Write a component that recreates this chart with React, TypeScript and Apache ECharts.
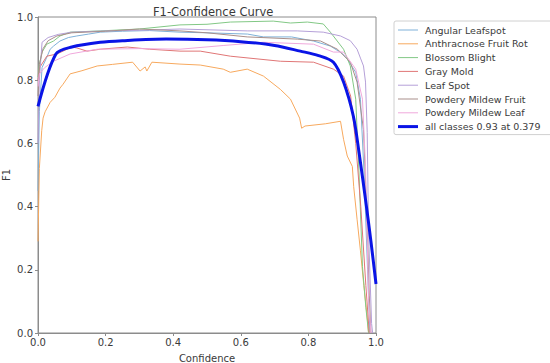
import React, { useEffect, useRef } from "react";
import * as echarts from "echarts";

const classNames = [
  "Angular Leafspot",
  "Anthracnose Fruit Rot",
  "Blossom Blight",
  "Gray Mold",
  "Leaf Spot",
  "Powdery Mildew Fruit",
  "Powdery Mildew Leaf",
];
const allClassesName = "all classes 0.93 at 0.379";

const angularConf = [0, 0.004, 0.012, 0.025, 0.036, 0.046, 0.065, 0.09, 0.115, 0.15, 0.184, 0.25, 0.33, 0.42, 0.5, 0.62, 0.667, 0.75, 0.815, 0.865, 0.9, 0.915, 0.94, 0.954, 0.965, 0.975, 0.982];
const angularF1 = [0.45, 0.7, 0.84, 0.87, 0.898, 0.908, 0.924, 0.935, 0.94, 0.946, 0.952, 0.955, 0.957, 0.952, 0.95, 0.946, 0.937, 0.937, 0.924, 0.908, 0.885, 0.867, 0.825, 0.74, 0.5, 0.2, 0];

const anthracConf = [0, 0.004, 0.011, 0.015, 0.021, 0.036, 0.05, 0.065, 0.074, 0.095, 0.13, 0.175, 0.22, 0.28, 0.302, 0.317, 0.322, 0.337, 0.42, 0.48, 0.548, 0.569, 0.619, 0.667, 0.717, 0.747, 0.774, 0.78, 0.79, 0.85, 0.895, 0.904, 0.915, 0.93, 0.934, 0.944, 0.954, 0.964, 0.974, 0.978];
const anthracF1 = [0.29, 0.52, 0.64, 0.68, 0.7, 0.73, 0.746, 0.775, 0.787, 0.82, 0.83, 0.845, 0.85, 0.857, 0.829, 0.842, 0.829, 0.857, 0.851, 0.848, 0.835, 0.825, 0.835, 0.813, 0.771, 0.74, 0.68, 0.648, 0.655, 0.662, 0.67, 0.613, 0.56, 0.527, 0.463, 0.36, 0.26, 0.15, 0.05, 0];

const blossomConf = [0, 0.004, 0.012, 0.026, 0.046, 0.065, 0.095, 0.184, 0.3, 0.42, 0.5, 0.569, 0.696, 0.747, 0.797, 0.844, 0.865, 0.904, 0.924, 0.94, 0.95, 0.96, 0.97, 0.978];
const blossomF1 = [0.81, 0.85, 0.889, 0.914, 0.924, 0.94, 0.952, 0.956, 0.962, 0.975, 0.977, 0.984, 0.987, 0.981, 0.984, 0.978, 0.952, 0.898, 0.845, 0.74, 0.5, 0.21, 0.08, 0];

const grayConf = [0, 0.005, 0.026, 0.056, 0.086, 0.1, 0.115, 0.145, 0.184, 0.264, 0.33, 0.42, 0.48, 0.569, 0.717, 0.815, 0.874, 0.904, 0.925, 0.94, 0.955, 0.97, 0.98];
const grayF1 = [0.8, 0.84, 0.876, 0.883, 0.898, 0.905, 0.902, 0.892, 0.898, 0.905, 0.898, 0.892, 0.892, 0.876, 0.86, 0.857, 0.835, 0.813, 0.75, 0.6, 0.4, 0.15, 0];

const leafConf = [0, 0.004, 0.012, 0.03, 0.06, 0.1, 0.2, 0.3, 0.42, 0.619, 0.767, 0.844, 0.895, 0.924, 0.944, 0.954, 0.963, 0.969, 0.974, 0.978, 0.987, 0.99];
const leafF1 = [0.6, 0.8, 0.92, 0.935, 0.945, 0.952, 0.956, 0.958, 0.962, 0.956, 0.956, 0.952, 0.94, 0.925, 0.898, 0.87, 0.845, 0.794, 0.635, 0.317, 0.03, 0];

const pmFruitConf = [0, 0.004, 0.015, 0.03, 0.056, 0.1, 0.2, 0.3, 0.42, 0.5, 0.619, 0.767, 0.836, 0.886, 0.924, 0.944, 0.963, 0.972, 0.98, 0.985];
const pmFruitF1 = [0.75, 0.85, 0.9, 0.925, 0.94, 0.95, 0.955, 0.962, 0.956, 0.95, 0.937, 0.93, 0.924, 0.898, 0.857, 0.794, 0.644, 0.4, 0.12, 0];

const pmLeafConf = [0, 0.004, 0.02, 0.046, 0.095, 0.175, 0.3, 0.42, 0.55, 0.667, 0.815, 0.874, 0.904, 0.94, 0.96, 0.969, 0.978, 0.985];
const pmLeafF1 = [0.78, 0.82, 0.84, 0.86, 0.883, 0.898, 0.9, 0.898, 0.91, 0.92, 0.914, 0.889, 0.889, 0.835, 0.74, 0.527, 0.105, 0];

const allConf = [0, 0.053, 0.1, 0.184, 0.25, 0.379, 0.5, 0.6, 0.7, 0.776, 0.83, 0.874, 0.904, 0.933, 0.95, 0.969, 0.985, 1.0];
const allF1 = [0.717, 0.883, 0.905, 0.92, 0.925, 0.93, 0.928, 0.922, 0.91, 0.892, 0.878, 0.857, 0.794, 0.686, 0.57, 0.422, 0.29, 0.155];

const classConf = [angularConf, anthracConf, blossomConf, grayConf, leafConf, pmFruitConf, pmLeafConf];
const classF1 = [angularF1, anthracF1, blossomF1, grayF1, leafF1, pmFruitF1, pmLeafF1];
const classColors = ["#7fb1d8", "#f7a95e", "#82c885", "#e07676", "#b5a0d8", "#a98f8a", "#f0a8dc"];
const allColor = "#0a14e6";

const FONT = "DejaVu Sans";
const TEXT = "#3a3a3a";
const AXIS = "#8c8c8c";

const THIN_ICON = "path://M0,0 M0,4.5 L20,4.5 L20,5.5 L0,5.5 Z M20,10";
const THICK_ICON = "path://M0,0 M0,3.5 L20,3.5 L20,6.5 L0,6.5 Z M20,10";

export default function App() {
  const ref = useRef<HTMLDivElement>(null);
  useEffect(() => {
    if (!ref.current) return;
    document.body.style.margin = "0";
    const chart = echarts.init(ref.current, null, { renderer: "svg" });
    const zip = (xs: number[], ys: number[]) => xs.map((x, i) => [x, ys[i]]);
    const series: any[] = classNames.map((name, i) => ({
      name,
      type: "line",
      data: zip(classConf[i], classF1[i]),
      showSymbol: false,
      symbol: "none",
      lineStyle: { width: 1, color: classColors[i] },
      itemStyle: { color: classColors[i] },
      z: 2,
    }));
    series.push({
      name: allClassesName,
      type: "line",
      data: zip(allConf, allF1),
      showSymbol: false,
      symbol: "none",
      smooth: 0.3,
      lineStyle: { width: 3, color: allColor },
      itemStyle: { color: allColor },
      z: 3,
    });
    const axisCommon = {
      type: "value",
      min: 0,
      max: 1,
      interval: 0.2,
      axisLine: { show: true, lineStyle: { color: AXIS, width: 1 } },
      axisTick: { show: true, inside: false, length: 3, lineStyle: { color: AXIS } },
      splitLine: { show: false },
      nameLocation: "middle",
      nameMoveOverlap: false,
      nameTextStyle: { color: TEXT, fontFamily: FONT, fontSize: 10 },
    };
    const labelBase = {
      color: TEXT,
      fontFamily: FONT,
      fontSize: 10,
      formatter: (v: number) => v.toFixed(1),
    };
    chart.setOption({
      animation: false,
      backgroundColor: "#ffffff",
      title: {
        text: "F1-Confidence Curve",
        left: 148,
        top: 1,
        textStyle: { color: TEXT, fontFamily: FONT, fontSize: 11.5, fontWeight: "normal" },
      },
      grid: {
        left: 38,
        right: 174,
        top: 17,
        bottom: 30,
        containLabel: false,
        outerBoundsMode: "none",
        show: true,
        borderColor: AXIS,
        borderWidth: 1,
      },
      xAxis: {
        ...axisCommon,
        name: "Confidence",
        nameGap: 20,
        axisLabel: { ...labelBase, margin: 4 },
      },
      yAxis: {
        ...axisCommon,
        name: "F1",
        nameGap: 27,
        axisLabel: { ...labelBase, margin: 5, align: "right" },
      },
      legend: {
        orient: "vertical",
        left: 394,
        top: 21,
        padding: [4, 17, 3, 4],
        itemWidth: 20,
        itemHeight: 10,
        itemGap: 3.8,
        borderColor: "#d0d0d0",
        borderWidth: 1,
        borderRadius: 2,
        backgroundColor: "#ffffff",
        textStyle: { color: TEXT, fontFamily: FONT, fontSize: 9.5, padding: [0, 0, 0, 2] },
        data: [
          ...classNames.map((name) => ({ name, icon: THIN_ICON })),
          { name: allClassesName, icon: THICK_ICON },
        ],
      },
      series,
    });
    return () => chart.dispose();
  }, []);
  return (
    <div
      ref={ref}
      style={{ position: "absolute", left: 0, top: 0, width: 550, height: 363 }}
    />
  );
}
